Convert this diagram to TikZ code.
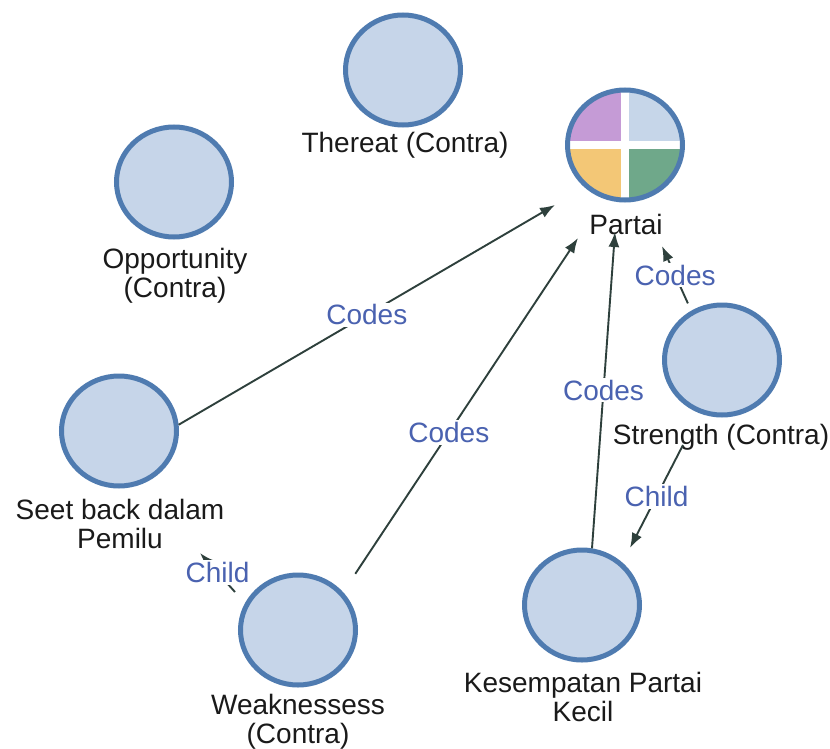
\documentclass[tikz,border=0pt]{standalone}
\usepackage{fontspec}
\setmainfont{Liberation Sans}
\usetikzlibrary{shapes.geometric,arrows.meta,calc}
\definecolor{cfill}{HTML}{C6D5E9}
\definecolor{cborder}{HTML}{4F7BB0}
\definecolor{lblue}{HTML}{4A62B0}
\definecolor{edgec}{HTML}{2E403C}
\definecolor{txtc}{HTML}{1A1A1A}
\definecolor{qpurple}{HTML}{C59BD6}
\definecolor{qblue}{HTML}{C6D6E9}
\definecolor{qorange}{HTML}{F3C776}
\definecolor{qgreen}{HTML}{6FA88A}
\begin{document}
\begin{tikzpicture}[x=1pt,y=-1pt,
  every node/.style={font=\fontsize{28}{29}\selectfont},
  codebox/.style={ellipse, draw=cborder, fill=cfill, line width=5pt, inner sep=0pt,
    minimum width=115pt, minimum height=110pt},
  nlabel/.style={text=txtc, align=center, inner sep=1pt},
  edge/.style={draw=edgec, line width=1.9pt, -{Latex[length=15pt,width=11pt]}},
  elabel/.style={text=lblue, fill=white, inner sep=2pt}
]
\useasboundingbox (0,0) rectangle (830,749);
\fill[white] (0,0) rectangle (830,749);

% nodes
\node[codebox] (thr) at (403,70) {};
\node[nlabel] (thrL) at (405,145) {Thereat (Contra)};

\node[codebox] (opp) at (174,182) {};
\node[nlabel] (oppL) at (175,276) {Opportunity\\(Contra)};

\node[codebox, path picture={
  \fill[qpurple] (path picture bounding box.center) rectangle (path picture bounding box.north west);
  \fill[qblue] (path picture bounding box.center) rectangle (path picture bounding box.north east);
  \fill[qorange] (path picture bounding box.center) rectangle (path picture bounding box.south west);
  \fill[qgreen] (path picture bounding box.center) rectangle (path picture bounding box.south east);
  \draw[white, line width=8pt] (path picture bounding box.north) -- (path picture bounding box.south)
    (path picture bounding box.west) -- (path picture bounding box.east);
}] (par) at (625,145) {};
\node[nlabel] (parL) at (626,224) {Partai};

\node[codebox] (seet) at (119,431) {};
\node[nlabel] (seetL) at (120,524) {Seet back dalam\\Pemilu};

\node[codebox] (weak) at (298,630) {};
\node[nlabel] (weakL) at (298,722) {Weaknessess\\(Contra)};

\node[codebox] (kes) at (582,605) {};
\node[nlabel] (kesL) at (583,697) {Kesempatan Partai\\Kecil};

\node[codebox] (str) at (722,360) {};
\node[nlabel] (strL) at (721,437) {Strength (Contra)};

% arrow tips near Partai and free ends
\coordinate (pA) at (555,205);
\coordinate (pB) at (578,238);
\coordinate (pC) at (615,232);
\coordinate (pD) at (662,246);
\coordinate (kesIn) at (630,548);
\coordinate (seetIn) at (200,553);
\coordinate (weakOut) at (235,592);

% edges
\draw[edge] (seet.6) -- node[elabel] {Codes} (pA);
\draw[edge, shorten <=22pt] (weak.40) -- node[elabel, pos=0.45] {Codes} (pB);
\draw[edge] (kes.80) -- node[elabel] {Codes} (pC);
\draw[edge, shorten <=8pt] (str.122) -- node[elabel, pos=0.55] {Codes} (pD);
\draw[edge] ($(strL)+(-38,8)$) -- node[elabel] {Child} (kesIn);
\draw[edge] (weakOut) -- node[elabel] {Child} (seetIn);
\end{tikzpicture}
\end{document}
